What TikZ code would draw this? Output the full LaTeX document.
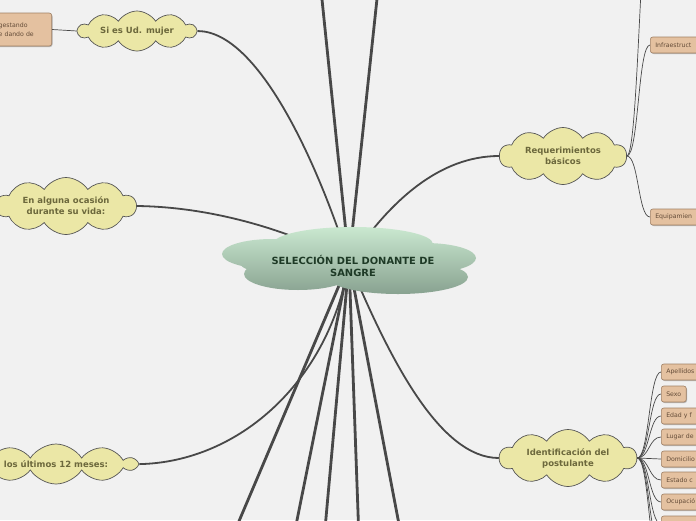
\documentclass[tikz,border=0pt]{standalone}
\usepackage{fontspec}
\setmainfont{DejaVu Sans}
\usepackage{tikz}
\usetikzlibrary{shapes.symbols,shadows,backgrounds}
\tikzset{
  every picture/.append style={line width=0.6pt},
}
\tikzset{
  idea/.style={cloud, cloud puffs=10, cloud puff arc=115, cloud ignores aspect, draw=edgegray, line width=0.7pt, fill=ideayellow, text=ideatext, align=center, inner sep=0pt, font=\bfseries\fontsize{8.5}{11}\selectfont},
  leaf/.style={draw=leafborder, fill=leaftan, rounded corners=2.5pt, minimum height=16pt, inner xsep=5pt, inner ysep=0pt, anchor=west, text=leaftext, font=\fontsize{6.2}{9}\selectfont, drop shadow={shadow xshift=0.8pt, shadow yshift=-1pt, opacity=0.35, fill=black!70}},
  cut/.style={text width=56pt, align=left},
  branch/.style={draw=linegray, line width=2.8pt},
  stem/.style={draw=linegray, line width=1.8pt},
  twig/.style={draw=linegray, line width=0.7pt}
}

\begin{document}
\begin{tikzpicture}[
    x=1pt, y=-1pt,
    root/.style={
        minimum width=254pt, minimum height=68pt,
        text=roottext, align=center, inner sep=0pt,
        font=\bfseries\fontsize{9.9}{12}\selectfont
    },
    rootcloud/.style={top color=roottop, bottom color=rootbottom}
]
% Color definitions
\definecolor{bggray}{RGB}{241,241,241}
\definecolor{linegray}{RGB}{72,72,72}
\definecolor{edgegray}{RGB}{85,85,85}
\definecolor{ideayellow}{RGB}{235,231,166}
\definecolor{ideatext}{RGB}{108,104,60}
\definecolor{roottop}{RGB}{202,232,208}
\definecolor{rootbottom}{RGB}{136,162,144}
\definecolor{roottext}{RGB}{30,58,38}
\definecolor{leaftan}{RGB}{228,193,160}
\definecolor{leafborder}{RGB}{160,128,100}
\definecolor{leaftext}{RGB}{100,76,56}

\useasboundingbox (0,0) rectangle (696,520);

% Central idea
\shade[rootcloud] (272,254) ellipse [x radius=50, y radius=15]
  (353,244) ellipse [x radius=80, y radius=17]
  (425,258) ellipse [x radius=51, y radius=15]
  (350,263) ellipse [x radius=110, y radius=18]
  (298,274) ellipse [x radius=54, y radius=16]
  (398,277) ellipse [x radius=70, y radius=17];
\node[root] (root) at (353,266) {SELECCIÓN DEL DONANTE DE\\SANGRE};

% Main topics
\node[idea, minimum width=118pt, minimum height=40pt] (mujer) at (137,31) {Si es Ud. mujer};
\node[idea, minimum width=140pt, minimum height=57pt] (vida) at (66,206) {En alguna ocasión\\durante su vida:};
\node[idea, minimum width=160pt, minimum height=40pt] (meses) at (56,464) {los últimos 12 meses:};
\node[idea, minimum width=127pt, minimum height=57pt] (req) at (563,156) {Requerimientos\\básicos};
\node[idea, minimum width=137pt, minimum height=57pt] (ident) at (568,458) {Identificación del\\postulante};

% Subtopics
\node[leaf, anchor=east, minimum height=33pt, text width=48pt, align=left] (emb) at (52,29.5) {gestando\\e dando de};
\node[leaf, cut] (infra) at (650,45) {Infraestruct};
\node[leaf, cut] (equip) at (650,217) {Equipamien};
\node[leaf, cut] (ape) at (661,372) {Apellidos};
\node[leaf] (sexo) at (661,394) {Sexo};
\node[leaf, cut] (edad) at (661,416) {Edad y f};
\node[leaf, cut] (lugar) at (661,437) {Lugar de};
\node[leaf, cut] (dom) at (661,459) {Domicilio};
\node[leaf, cut] (civil) at (661,480) {Estado c};
\node[leaf, cut] (ocup) at (661,502) {Ocupació};
\node[leaf, cut] (otro) at (661,524) {};

% Branches leaving the picture
\coordinate (up1) at (320,-20);
\coordinate (up2) at (379,-20);
\coordinate (dn1) at (231,540);
\coordinate (dn2) at (293,540);
\coordinate (dn3) at (324,540);
\coordinate (dn4) at (359,540);
\coordinate (dn5) at (402,540);
\coordinate (reqtop) at (652,-110);
\coordinate (idlow1) at (661,546);
\coordinate (idlow2) at (661,568);
\coordinate (hub) at (349,262);

\begin{scope}[on background layer]
\fill[bggray] (0,0) rectangle (696,520);

% Main branches
\draw[branch] (hub) -- (up1);
\draw[branch] (hub) -- (up2);
\draw[branch] (hub) -- (dn1);
\draw[branch] (hub) -- (dn2);
\draw[branch] (hub) -- (dn3);
\draw[branch] (hub) -- (dn4);
\draw[branch] (hub) -- (dn5);
\draw[stem] (hub) .. controls (320,170) and (260,31) .. (mujer.east);
\draw[stem] (hub) .. controls (300,235) and (220,207) .. (vida.east);
\draw[stem] (hub) .. controls (330,380) and (240,462) .. (meses.east);
\draw[stem] (hub) .. controls (390,200) and (440,156) .. (req.west);
\draw[stem] (hub) .. controls (390,360) and (440,458) .. (ident.west);

% Sub branches
\draw[twig] (mujer.west) -- (emb.east);
\draw[twig] (req.east) .. controls +(12,0) and +(-12,0) .. (reqtop);
\draw[twig] (req.east) .. controls +(12,0) and +(-12,0) .. (infra.west);
\draw[twig] (req.east) .. controls +(12,0) and +(-12,0) .. (equip.west);
\draw[twig] (ident.east) .. controls +(12,0) and +(-12,0) .. (ape.west);
\draw[twig] (ident.east) .. controls +(12,0) and +(-12,0) .. (sexo.west);
\draw[twig] (ident.east) .. controls +(12,0) and +(-12,0) .. (edad.west);
\draw[twig] (ident.east) .. controls +(12,0) and +(-12,0) .. (lugar.west);
\draw[twig] (ident.east) .. controls +(12,0) and +(-12,0) .. (dom.west);
\draw[twig] (ident.east) .. controls +(12,0) and +(-12,0) .. (civil.west);
\draw[twig] (ident.east) .. controls +(12,0) and +(-12,0) .. (ocup.west);
\draw[twig] (ident.east) .. controls +(12,0) and +(-12,0) .. (otro.west);
\draw[twig] (ident.east) .. controls +(12,0) and +(-12,0) .. (idlow1);
\draw[twig] (ident.east) .. controls +(12,0) and +(-12,0) .. (idlow2);
\end{scope}
\end{tikzpicture}
\end{document}
